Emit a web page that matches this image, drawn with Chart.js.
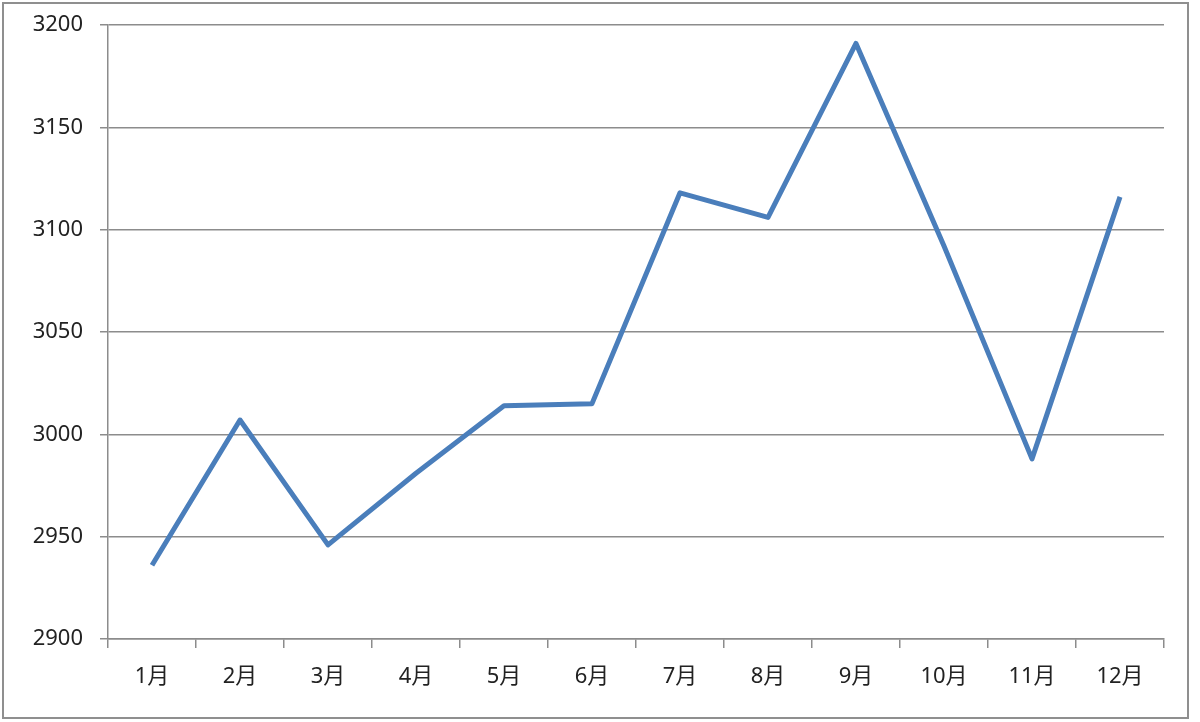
<!DOCTYPE html>
<html lang="ja">
<head>
    <meta charset="UTF-8">
    <title>月別推移</title>
    <style>
        body { margin: 0; background: #fff; }
        #wrap { width: 1200px; height: 722px; position: relative; }
    </style>
</head>
<body>
    <div id="wrap"><canvas id="chart"></canvas></div>
    <script src="https://cdn.jsdelivr.net/npm/chart.js"></script>
    <script>
        // data
        const months = ['1月', '2月', '3月', '4月', '5月', '6月', '7月', '8月', '9月', '10月', '11月', '12月'];
        const values = [2936, 3007, 2946, 2981, 3014, 3015, 3118, 3106, 3191, 3092, 2988, 3116];
        const yTicks = [2900, 2950, 3000, 3050, 3100, 3150, 3200];

        const gridColor = '#8c8c8c';
        const labelFont = { family: "'Noto Sans', 'Noto Sans CJK JP', sans-serif", size: 22 };

        // white page with the grey frame round the whole chart
        const framePlugin = {
            id: 'frame',
            beforeDraw(chart) {
                const c = chart.ctx;
                c.save();
                c.fillStyle = '#fff';
                c.fillRect(0, 0, chart.width, chart.height);
                c.strokeStyle = '#8f8f8f';
                c.lineWidth = 2;
                c.strokeRect(3, 3, 1185, 715);
                c.restore();
            }
        };

        new Chart(document.getElementById('chart'), {
            type: 'line',
            data: {
                labels: months,
                datasets: [{
                    data: values,
                    borderColor: '#4a7ebb',
                    borderWidth: 5,
                    borderJoinStyle: 'round',
                    pointRadius: 0,
                    tension: 0,
                    fill: false
                }]
            },
            plugins: [framePlugin],
            options: {
                responsive: true,
                maintainAspectRatio: false,
                animation: false,
                layout: { padding: { top: 25, right: 36, bottom: 0, left: 0 } },
                plugins: { legend: { display: false }, tooltip: { enabled: false } },
                scales: {
                    x: {
                        offset: true,
                        afterFit: (s) => { s.height = 83; s.paddingLeft = 0; s.paddingRight = 0; },
                        grid: { offset: true, drawOnChartArea: false, drawTicks: true, tickLength: 9, color: gridColor, lineWidth: 1.5 },
                        border: { color: gridColor, width: 1.5 },
                        ticks: { color: '#222', font: labelFont, padding: 16, maxRotation: 0 }
                    },
                    y: {
                        min: 2900,
                        max: 3200,
                        afterFit: (s) => { s.width = 108; s.paddingTop = 0; s.paddingBottom = 0; },
                        afterBuildTicks: (s) => { s.ticks = yTicks.map(v => ({ value: v })); },
                        grid: { color: gridColor, lineWidth: 1.5, tickLength: 8 },
                        border: { color: gridColor, width: 1.5 },
                        ticks: { color: '#222', font: labelFont, padding: 17, callback: (v) => String(v) }
                    }
                }
            }
        });
    </script>
</body>
</html>
